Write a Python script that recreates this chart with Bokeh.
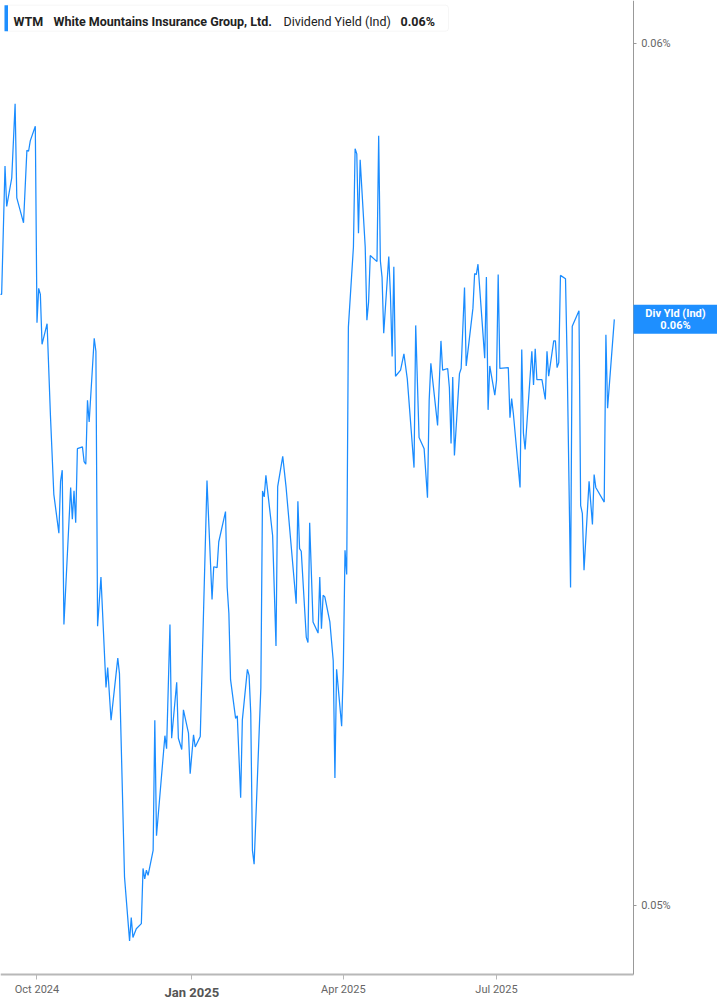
from bokeh.plotting import figure
from bokeh.models import ColumnDataSource, FixedTicker, PrintfTickFormatter, Label, BoxAnnotation, Range1d
from bokeh.embed import file_html
from bokeh.resources import INLINE
import pandas as pd

ticker_symbol = "WTM"
company = "White Mountains Insurance Group, Ltd."
metric = "Dividend Yield (Ind)"
metric_short = "Div Yld (Ind)"

dates = [
    "2024-09-09", "2024-09-10", "2024-09-12", "2024-09-13", "2024-09-16", "2024-09-18", "2024-09-19",
    "2024-09-23", "2024-09-25", "2024-09-26", "2024-09-27", "2024-09-30", "2024-10-01", "2024-10-02",
    "2024-10-03", "2024-10-04", "2024-10-07", "2024-10-09", "2024-10-11", "2024-10-14", "2024-10-15",
    "2024-10-16", "2024-10-17", "2024-10-21", "2024-10-22", "2024-10-23", "2024-10-24", "2024-10-25",
    "2024-10-28", "2024-10-29", "2024-10-30", "2024-10-31", "2024-11-01", "2024-11-04", "2024-11-05",
    "2024-11-06", "2024-11-08", "2024-11-11", "2024-11-12", "2024-11-14", "2024-11-18", "2024-11-19",
    "2024-11-22", "2024-11-25", "2024-11-26", "2024-11-27", "2024-11-29", "2024-12-02", "2024-12-03",
    "2024-12-04", "2024-12-05", "2024-12-06", "2024-12-09", "2024-12-10", "2024-12-11", "2024-12-16",
    "2024-12-17", "2024-12-19", "2024-12-20", "2024-12-23", "2024-12-24", "2024-12-26", "2024-12-27",
    "2024-12-30", "2024-12-31", "2025-01-02", "2025-01-03", "2025-01-06", "2025-01-10", "2025-01-13",
    "2025-01-14", "2025-01-16", "2025-01-17", "2025-01-21", "2025-01-22", "2025-01-23", "2025-01-24",
    "2025-01-27", "2025-01-28", "2025-01-30", "2025-01-31", "2025-02-03", "2025-02-04", "2025-02-05",
    "2025-02-06", "2025-02-07", "2025-02-11", "2025-02-12", "2025-02-13", "2025-02-14", "2025-02-18",
    "2025-02-20", "2025-02-21", "2025-02-24", "2025-02-26", "2025-03-04", "2025-03-05", "2025-03-06",
    "2025-03-07", "2025-03-10", "2025-03-11", "2025-03-12", "2025-03-14", "2025-03-17", "2025-03-18",
    "2025-03-19", "2025-03-20", "2025-03-21", "2025-03-24", "2025-03-26", "2025-03-27", "2025-03-28",
    "2025-03-31", "2025-04-01", "2025-04-02", "2025-04-03", "2025-04-04", "2025-04-07", "2025-04-08",
    "2025-04-09", "2025-04-10", "2025-04-11", "2025-04-14", "2025-04-15", "2025-04-16", "2025-04-17",
    "2025-04-21", "2025-04-22", "2025-04-23", "2025-04-24", "2025-04-25", "2025-04-28", "2025-04-29",
    "2025-04-30", "2025-05-01", "2025-05-02", "2025-05-05", "2025-05-07", "2025-05-09", "2025-05-13",
    "2025-05-14", "2025-05-16", "2025-05-19", "2025-05-21", "2025-05-22", "2025-05-23", "2025-05-27",
    "2025-05-29", "2025-05-30", "2025-06-02", "2025-06-03", "2025-06-04", "2025-06-05", "2025-06-06",
    "2025-06-09", "2025-06-10", "2025-06-12", "2025-06-13", "2025-06-17", "2025-06-18", "2025-06-19",
    "2025-06-20", "2025-06-24", "2025-06-25", "2025-06-26", "2025-06-27", "2025-06-30", "2025-07-01",
    "2025-07-02", "2025-07-03", "2025-07-08", "2025-07-09", "2025-07-10", "2025-07-11", "2025-07-15",
    "2025-07-16", "2025-07-17", "2025-07-18", "2025-07-22", "2025-07-23", "2025-07-24", "2025-07-25",
    "2025-07-28", "2025-07-30", "2025-07-31", "2025-08-01", "2025-08-04", "2025-08-05", "2025-08-06",
    "2025-08-07", "2025-08-08", "2025-08-11", "2025-08-12", "2025-08-14", "2025-08-15", "2025-08-19",
    "2025-08-20", "2025-08-21", "2025-08-22", "2025-08-25", "2025-08-27", "2025-08-28", "2025-08-29",
    "2025-09-03", "2025-09-04", "2025-09-05", "2025-09-09",
]

yields = [
    0.05709, 0.05709, 0.05858, 0.05811, 0.05844, 0.05930, 0.05821,
    0.05792, 0.05876, 0.05875, 0.05887, 0.05904, 0.05676, 0.05716,
    0.05709, 0.05651, 0.05675, 0.05568, 0.05477, 0.05432, 0.05492,
    0.05505, 0.05326, 0.05485, 0.05448, 0.05481, 0.05444, 0.05530,
    0.05532, 0.05515, 0.05512, 0.05586, 0.05561, 0.05658, 0.05643,
    0.05324, 0.05381, 0.05253, 0.05276, 0.05215, 0.05287, 0.05269,
    0.05033, 0.04959, 0.04986, 0.04963, 0.04973, 0.04979, 0.05043,
    0.05031, 0.05041, 0.05035, 0.05064, 0.05215, 0.05081, 0.05197,
    0.05182, 0.05326, 0.05194, 0.05259, 0.05194, 0.05181, 0.05227,
    0.05200, 0.05153, 0.05198, 0.05184, 0.05196, 0.05493, 0.05355,
    0.05393, 0.05392, 0.05422, 0.05457, 0.05369, 0.05339, 0.05262,
    0.05217, 0.05220, 0.05125, 0.05215, 0.05274, 0.05267, 0.05223,
    0.05064, 0.05048, 0.05253, 0.05481, 0.05474, 0.05499, 0.05429,
    0.05301, 0.05486, 0.05521, 0.05485, 0.05350, 0.05469, 0.05414,
    0.05411, 0.05311, 0.05305, 0.05444, 0.05329, 0.05316, 0.05381,
    0.05321, 0.05360, 0.05358, 0.05329, 0.05284, 0.05148, 0.05274,
    0.05208, 0.05276, 0.05412, 0.05384, 0.05671, 0.05764, 0.05878,
    0.05872, 0.05780, 0.05865, 0.05764, 0.05679, 0.05700, 0.05754,
    0.05747, 0.05893, 0.05748, 0.05729, 0.05664, 0.05753, 0.05708,
    0.05637, 0.05741, 0.05614, 0.05621, 0.05640, 0.05611, 0.05508,
    0.05673, 0.05543, 0.05530, 0.05473, 0.05586, 0.05629, 0.05557,
    0.05655, 0.05621, 0.05623, 0.05601, 0.05536, 0.05613, 0.05522,
    0.05617, 0.05623, 0.05717, 0.05626, 0.05693, 0.05733, 0.05732,
    0.05744, 0.05635, 0.05729, 0.05575, 0.05626, 0.05592, 0.05609,
    0.05732, 0.05623, 0.05624, 0.05566, 0.05588, 0.05571, 0.05485,
    0.05645, 0.05548, 0.05529, 0.05643, 0.05604, 0.05646, 0.05610,
    0.05610, 0.05587, 0.05643, 0.05614, 0.05655, 0.05655, 0.05624,
    0.05630, 0.05731, 0.05727, 0.05629, 0.05369, 0.05672, 0.05690,
    0.05464, 0.05455, 0.05389, 0.05492, 0.05442, 0.05500, 0.05485,
    0.05468, 0.05662, 0.05577, 0.05680,
]

x_tick_dates = ["2024-10-01", "2025-01-01", "2025-04-01", "2025-07-01"]
x_tick_labels = ["Oct 2024", "Jan 2025", "Apr 2025", "Jul 2025"]
bold_tick_label = "Jan 2025"
y_ticks = [0.05, 0.06]

# visible window (whole canvas) and where the two axes sit
x_start, x_end = "2024-09-09 07:41", "2025-11-09 07:12"
axis_x_end = "2025-09-20 05:00"          # right axis position / end of bottom axis
y_start, y_end = 0.048840, 0.060499
axis_y_pos = 0.049205                    # bottom axis position / start of right axis

LINE_BLUE = "#1a8cff"
BOX_BLUE = "#1e8fff"
W, H = 717, 1005

def ms(s):
    return pd.Timestamp(s).value / 1e6

src = ColumnDataSource(data=dict(date=pd.to_datetime(dates), yld=yields))

p = figure(width=W, height=H, x_axis_type="datetime", y_axis_location="right",
           x_range=Range1d(pd.Timestamp(x_start), pd.Timestamp(x_end)),
           y_range=Range1d(y_start, y_end),
           output_backend="svg", toolbar_location=None,
           min_border_left=0, min_border_top=0, min_border_right=0, min_border_bottom=0)
p.outline_line_color = None
p.background_fill_color = "white"
p.border_fill_color = "white"
p.xgrid.visible = False
p.ygrid.visible = False

p.line(x="date", y="yld", source=src, line_color=LINE_BLUE, line_width=1.25)

# bottom axis
tick_ms = [ms(d) for d in x_tick_dates]
xa = p.xaxis[0]
xa.fixed_location = axis_y_pos
xa.bounds = (ms(x_start), ms(axis_x_end))
xa.ticker = FixedTicker(ticks=tick_ms)
xa.major_label_overrides = {t: ("" if l == bold_tick_label else l) for t, l in zip(tick_ms, x_tick_labels)}
xa.axis_line_color = "#b8b8b8"
xa.axis_line_width = 2
xa.major_tick_line_color = "#b8b8b8"
xa.major_tick_out = 5
xa.major_tick_in = 0
xa.minor_tick_line_color = None
xa.major_label_standoff = 4
xa.major_label_text_font = "Roboto"
xa.major_label_text_font_size = "11px"
xa.major_label_text_color = "#666666"

for t, l in zip(tick_ms, x_tick_labels):
    if l == bold_tick_label:
        p.add_layout(Label(x=t, y=H - 992, x_units="data", y_units="screen", text=l,
                           text_align="center", text_baseline="middle", text_font="Roboto",
                           text_font_style="bold", text_font_size="13px", text_color="#555555"))

# right axis
ya = p.yaxis[0]
ya.fixed_location = ms(axis_x_end)
ya.bounds = (axis_y_pos, y_end)
ya.ticker = FixedTicker(ticks=y_ticks)
ya.formatter = PrintfTickFormatter(format="%.2f%%")
ya.axis_line_color = "#999999"
ya.axis_line_width = 1
ya.major_tick_line_color = "#999999"
ya.major_tick_out = 3
ya.major_tick_in = 0
ya.minor_tick_line_color = None
ya.major_label_standoff = 5
ya.major_label_text_font = "Roboto"
ya.major_label_text_font_size = "11px"
ya.major_label_text_color = "#666666"

# header box (screen units measured from the bottom-left of the frame)
top_s = H - 4.7
bot_s = H - 30.7
p.add_layout(BoxAnnotation(left=4, right=448, bottom=bot_s, top=top_s,
                           left_units="screen", right_units="screen", top_units="screen", bottom_units="screen",
                           fill_color="white", fill_alpha=1.0, line_color="#e2e2e2", line_width=1,
                           border_radius=3))
p.add_layout(BoxAnnotation(left=4, right=7.5, bottom=bot_s, top=top_s,
                           left_units="screen", right_units="screen", top_units="screen", bottom_units="screen",
                           fill_color=BOX_BLUE, fill_alpha=1.0, line_color=None))
last_txt = f"{yields[-1]:.2f}%"
base_y = H - 20.9
for xs, txt, style in [(13, ticker_symbol, "bold"), (53, company, "bold"),
                       (283, metric, "normal"), (400, last_txt, "bold")]:
    p.add_layout(Label(x=xs, y=base_y, x_units="screen", y_units="screen", text=txt,
                       text_align="left", text_baseline="alphabetic", text_font="Roboto",
                       text_font_style=style, text_font_size="12.5px", text_color="#222222"))

# last value box on the right
px_to_data = (y_end - y_start) / H
half = 14.5 * px_to_data
p.add_layout(BoxAnnotation(left=633, right=W + 2, bottom=yields[-1] - half, top=yields[-1] + half,
                           left_units="screen", right_units="screen", top_units="data", bottom_units="data",
                           fill_color=BOX_BLUE, fill_alpha=1.0, line_color=None))
for txt, off in [(metric_short, 5.5), (last_txt, -6)]:
    p.add_layout(Label(x=675, y=yields[-1], x_units="screen", y_units="data", y_offset=off,
                       text=txt, text_align="center", text_baseline="middle", text_font="Roboto",
                       text_font_style="bold", text_font_size="11px", text_color="white"))

open("out.html", "w").write(file_html(p, INLINE))
